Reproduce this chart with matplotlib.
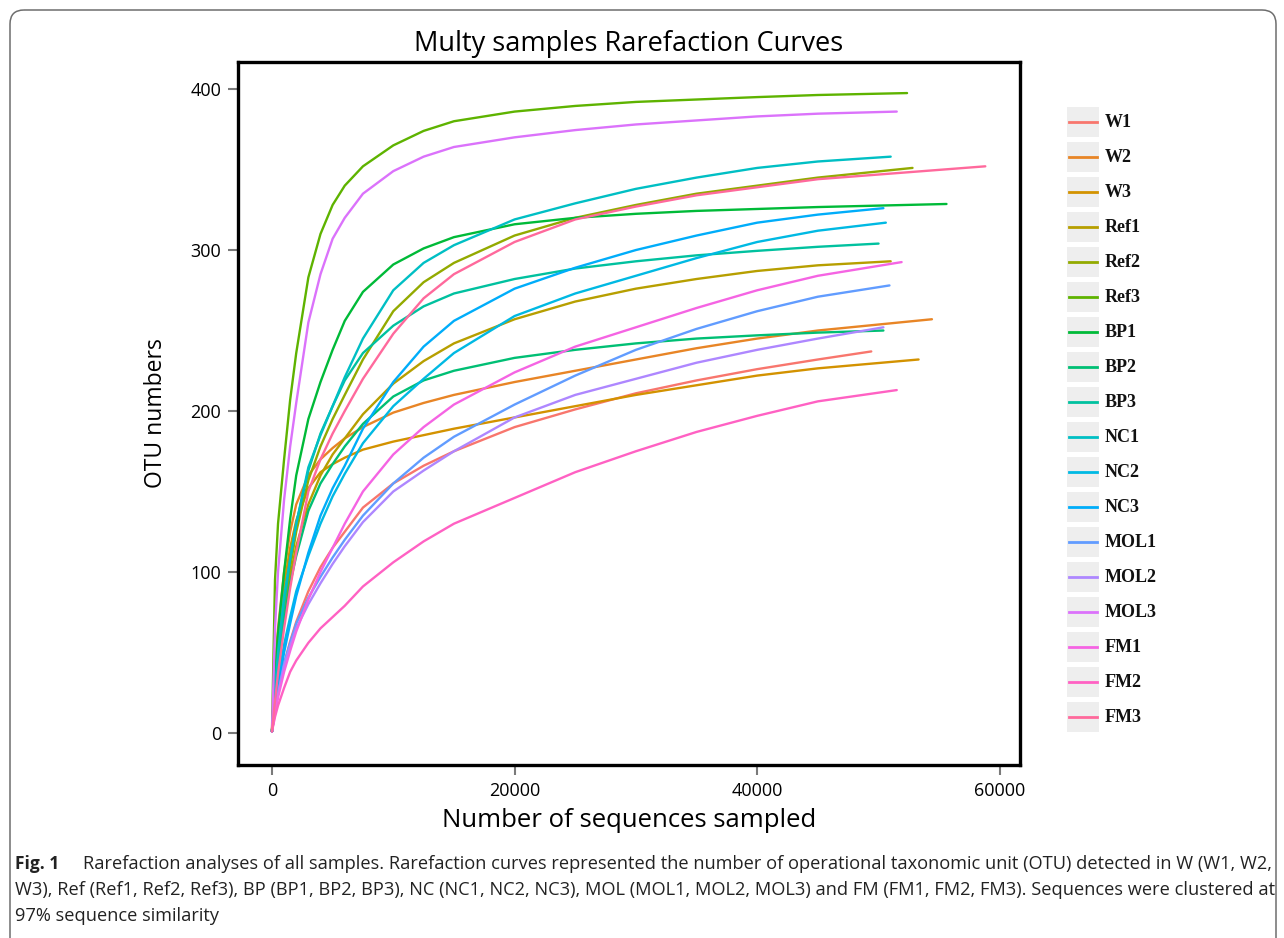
import matplotlib
matplotlib.use("Agg")
import matplotlib.pyplot as plt
from matplotlib.patches import Rectangle, FancyBboxPatch
from matplotlib.lines import Line2D

# ---------------- data ----------------
samples = ["W1", "W2", "W3", "Ref1", "Ref2", "Ref3", "BP1", "BP2", "BP3",
           "NC1", "NC2", "NC3", "MOL1", "MOL2", "MOL3", "FM1", "FM2", "FM3"]
colors = ["#F8766D", "#E88526", "#D39200", "#B79F00", "#93AA00", "#5EB300",
          "#00BA38", "#00BF74", "#00C19F", "#00BFC4", "#00B9E3", "#00ADFA",
          "#619CFF", "#AE87FF", "#DB72FB", "#F564E3", "#FF61C3", "#FF699C"]

# common sampling depths where values were read
depth_grid = [0, 250, 500, 1000, 1500, 2000, 3000, 4000, 5000, 6000, 7500,
              10000, 12500, 15000, 20000, 25000, 30000, 35000, 40000, 45000]
# final sequencing depth of each sample
final_depth = [49400, 54400, 53300, 51000, 52800, 52350, 55600, 50400, 50000,
               51000, 50600, 50400, 50900, 50400, 51500, 51900, 51500, 58800]

W1 = [1, 14, 25, 43, 57, 69, 88, 103, 115, 125, 140, 155, 166, 175, 190, 201, 211, 219, 226, 232, 237]
W2 = [1, 40, 65, 100, 125, 142, 160, 170, 177, 183, 190, 199, 205, 210, 218, 225, 232, 239, 245, 250, 257]
W3 = [1, 38, 60, 92, 115, 132, 152, 162, 167, 171, 176, 181, 185, 189, 196, 203, 210, 216, 222, 226.5, 232]
Ref1 = [1, 25, 45, 75, 97, 116, 142, 160, 173, 183, 198, 217, 231, 242, 257, 268, 276, 282, 287, 290.5, 293]
Ref2 = [1, 25, 45, 78, 103, 125, 157, 178, 195, 210, 232, 262, 280, 292, 309, 320, 328, 335, 340, 345, 351]
Ref3 = [1, 95, 130, 170, 207, 236, 283, 310, 328, 340, 352, 365, 374, 380, 386, 389.5, 392, 393.5, 395, 396.3, 397.5]
BP1 = [1, 35, 62, 100, 133, 160, 195, 218, 238, 256, 274, 291, 301, 308, 316, 320, 322.5, 324.3, 325.5, 326.7, 328.6]
BP2 = [1, 22, 40, 70, 93, 110, 138, 155, 167, 178, 192, 209, 219, 225, 233, 238, 242, 245, 247, 248.7, 250]
BP3 = [1, 25, 45, 80, 108, 130, 163, 186, 203, 219, 236, 253, 265, 273, 282, 288.5, 293, 296.7, 299.5, 302, 304]
NC1 = [1, 28, 50, 85, 108, 130, 165, 185, 203, 221, 245, 275, 292, 303, 319, 329, 338, 345, 351, 355, 358]
NC2 = [1, 18, 32, 55, 72, 88, 110, 130, 147, 161, 180, 203, 220, 236, 259, 273, 284, 295, 305, 312, 317]
NC3 = [1, 15, 28, 50, 68, 85, 112, 135, 152, 166, 189, 218, 240, 256, 276, 289, 300, 309, 317, 322, 326]
MOL1 = [1, 14, 25, 43, 56, 68, 84, 97, 109, 120, 135, 155, 171, 184, 204, 222, 238, 251, 262, 271, 278]
MOL2 = [1, 14, 24, 42, 54, 65, 80, 93, 105, 116, 131, 150, 163, 175, 196, 210, 220, 230, 238, 245, 252]
MOL3 = [1, 65, 100, 145, 178, 205, 255, 285, 307, 320, 335, 349, 358, 364, 370, 374.5, 378, 380.5, 383, 384.7, 386]
FM1 = [1, 12, 22, 38, 51, 63, 83, 100, 115, 130, 150, 173, 190, 204, 224, 240, 252, 264, 275, 284, 292.5]
FM2 = [1, 10, 17, 28, 38, 45, 56, 65, 72, 79, 91, 106, 119, 130, 146, 162, 175, 187, 197, 206, 213]
FM3 = [1, 20, 37, 65, 90, 112, 150, 170, 186, 200, 220, 248, 270, 285, 305, 319, 327, 334, 339, 344, 352]

otu_values = [W1, W2, W3, Ref1, Ref2, Ref3, BP1, BP2, BP3,
              NC1, NC2, NC3, MOL1, MOL2, MOL3, FM1, FM2, FM3]

x_ticks = [0, 20000, 40000, 60000]
y_ticks = [0, 100, 200, 300, 400]

title = "Multy samples Rarefaction Curves"
xlabel = "Number of sequences sampled"
ylabel = "OTU numbers"
caption_bold = "Fig. 1"
caption_lines = [
    "Rarefaction analyses of all samples. Rarefaction curves represented the number of operational taxonomic unit (OTU) detected in W (W1, W2,",
    "W3), Ref (Ref1, Ref2, Ref3), BP (BP1, BP2, BP3), NC (NC1, NC2, NC3), MOL (MOL1, MOL2, MOL3) and FM (FM1, FM2, FM3). Sequences were clustered at",
    "97% sequence similarity",
]

# ---------------- figure ----------------
W, H = 1284, 938
fig = plt.figure(figsize=(W / 100, H / 100), dpi=100)
fig.patch.set_facecolor("white")

def fx(px):
    return px / W

def fy(py):
    return 1 - py / H

ax_l, ax_r, ax_t, ax_b = 238, 1020, 62, 765
ax = fig.add_axes([fx(ax_l), fy(ax_b), fx(ax_r - ax_l), (ax_b - ax_t) / H])

for name, col, end, vals in zip(samples, colors, final_depth, otu_values):
    xs = depth_grid + [end]
    ax.plot(xs, vals, color=col, lw=1.7, solid_joinstyle="round",
            solid_capstyle="round", label=name)

ax.set_xlim(-2800, 61660)
ax.set_ylim(-19.9, 416.8)
ax.set_xticks(x_ticks)
ax.set_yticks(y_ticks)
ax.set_xticklabels([str(v) for v in x_ticks])
ax.set_yticklabels([str(v) for v in y_ticks])
for s in ax.spines.values():
    s.set_linewidth(2.4)
    s.set_color("black")
ax.tick_params(axis="both", direction="out", length=7, width=1.5,
               color="#7a7a7a", labelsize=13, pad=5, labelcolor="black")
for lab in ax.get_xticklabels() + ax.get_yticklabels():
    lab.set_family("Open Sans")

ax.set_title(title, family="Open Sans", fontsize=19.5, pad=8)
ax.set_xlabel(xlabel, family="Open Sans", fontsize=18.5, labelpad=6)
ax.set_ylabel(ylabel, family="Open Sans", fontsize=16.5, labelpad=16)

# ---------------- overlay (legend, caption, frame) ----------------
ov = fig.add_axes([0, 0, 1, 1], zorder=5)
ov.set_xlim(0, W)
ov.set_ylim(H, 0)
ov.axis("off")
ov.patch.set_alpha(0)

# outer rounded frame
ov.add_patch(FancyBboxPatch((10, 10), 1266, 945,
                            boxstyle="round,pad=0,rounding_size=14",
                            fc="none", ec="#6e6e6e", lw=1.1))

# legend
leg_y0, leg_dy = 121.7, 35.0
for i, (name, col) in enumerate(zip(samples, colors)):
    yc = leg_y0 + i * leg_dy
    ov.add_patch(Rectangle((1067, yc - 15), 32, 30, fc="#EEEEEE", ec="none"))
    ov.add_line(Line2D([1069, 1097], [yc, yc], color=col, lw=2.0))
    ov.text(1105, yc + 1, name, family="Liberation Serif", fontweight="bold",
            fontsize=13, va="center", ha="left", color="#111111")

# caption
fig.canvas.draw()
renderer = fig.canvas.get_renderer()
bold_t = ov.text(15, 864, caption_bold, family="Open Sans", fontweight="bold",
                 fontsize=12.5, va="center", ha="left", color="#222222")
line_t = []
line_pos = [(83, 864), (15, 890), (15, 916)]
for txt, (px, py) in zip(caption_lines, line_pos):
    line_t.append(ov.text(px, py, txt, family="Open Sans", fontsize=12,
                          va="center", ha="left", color="#222222"))
fig.canvas.draw()
targets = [1275 - 83, 1272 - 15]
scales = []
for t, tw in zip(line_t[:2], targets):
    w = t.get_window_extent(renderer).width
    scales.append(tw / w)
sc = min(scales)
for t in line_t:
    t.set_fontsize(12 * sc)

fig.savefig("out.png", dpi=100)
